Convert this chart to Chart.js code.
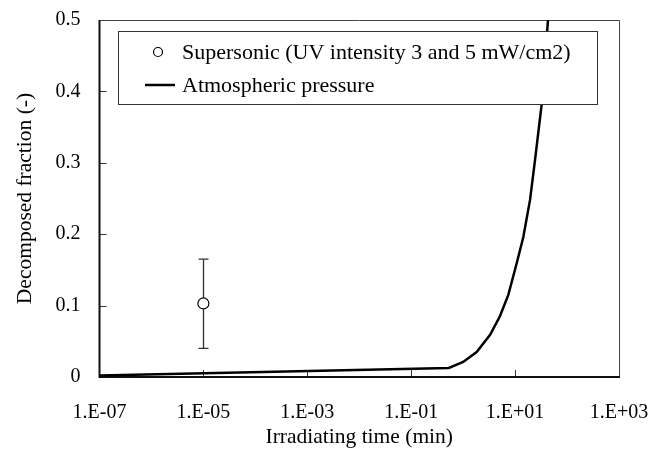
<!DOCTYPE html>
<html>
<head>
<meta charset="utf-8">
<script src="https://cdn.jsdelivr.net/npm/chart.js@4.4.1/dist/chart.umd.min.js"></script>
<style>
  body { margin: 0; background: #fff; }
  #wrap { width: 653px; height: 450px; }
</style>
</head>
<body>
<div id="wrap"><canvas id="decompChart" width="653" height="450"></canvas></div>
<script>
// supersonic run: one point with an error bar
const superTime = [1e-5];
const superFrac = [0.103];
const superLow = [0.040];
const superHigh = [0.165];

// atmospheric pressure curve
const atmTime = [1e-7, 0.53, 1.0, 1.82, 3.3, 5.1, 7.4, 10.7, 14.4, 19.4, 24.2, 32.5, 43];
const atmFrac = [0.002, 0.0126, 0.021, 0.035, 0.059, 0.085, 0.115, 0.159, 0.196, 0.248, 0.304, 0.382, 0.5];

const xTickValues = [1e-7, 1e-5, 1e-3, 1e-1, 1e1, 1e3];
const yTickValues = [0, 0.1, 0.2, 0.3, 0.4, 0.5];

const seriesLabels = ["Supersonic (UV intensity 3 and 5 mW/cm2)", "Atmospheric pressure"];

const FONT = '"Liberation Serif", "Times New Roman", serif';
Chart.defaults.font.family = FONT;
Chart.defaults.font.size = 20;
Chart.defaults.color = "#000";

function expLabel(v) {
  const e = Math.round(Math.log10(v));
  const s = e < 0 ? "-" : "+";
  return "1.E" + s + String(Math.abs(e)).padStart(2, "0");
}

// frame, inward ticks and error bars (under the marks)
const framePlugin = {
  id: "frame",
  beforeDatasetsDraw(chart) {
    const { ctx, chartArea: a, scales } = chart;
    ctx.save();
    // top and right border
    ctx.strokeStyle = "#444";
    ctx.lineWidth = 1;
    ctx.beginPath();
    ctx.moveTo(a.left, a.top + 0.5);
    ctx.lineTo(a.right + 0.5, a.top + 0.5);
    ctx.lineTo(a.right + 0.5, a.bottom);
    ctx.stroke();
    // inward ticks
    ctx.strokeStyle = "#333";
    ctx.beginPath();
    xTickValues.slice(1, -1).forEach(v => {
      const x = Math.round(scales.x.getPixelForValue(v)) + 0.5;
      ctx.moveTo(x, a.bottom);
      ctx.lineTo(x, a.bottom - 7);
    });
    yTickValues.slice(1, -1).forEach(v => {
      const y = Math.round(scales.y.getPixelForValue(v)) + 0.5;
      ctx.moveTo(a.left, y);
      ctx.lineTo(a.left + 7, y);
    });
    ctx.stroke();
    // left and bottom axis
    ctx.strokeStyle = "#111";
    ctx.lineWidth = 2;
    ctx.beginPath();
    ctx.moveTo(a.left, a.top);
    ctx.lineTo(a.left, a.bottom);
    ctx.lineTo(a.right + 1, a.bottom);
    ctx.stroke();
    // error bars
    ctx.strokeStyle = "#333";
    ctx.lineWidth = 1.3;
    ctx.beginPath();
    superTime.forEach((t, i) => {
      const x = Math.round(scales.x.getPixelForValue(t)) + 0.5;
      const y1 = scales.y.getPixelForValue(superLow[i]);
      const y2 = scales.y.getPixelForValue(superHigh[i]);
      ctx.moveTo(x, y1); ctx.lineTo(x, y2);
      ctx.moveTo(x - 5, y1); ctx.lineTo(x + 5, y1);
      ctx.moveTo(x - 5, y2); ctx.lineTo(x + 5, y2);
    });
    ctx.stroke();
    ctx.restore();
  }
};

// boxed legend inside the plot
const legendBox = {
  id: "legendBox",
  afterDatasetsDraw(chart) {
    const { ctx } = chart;
    const ds = chart.data.datasets;
    ctx.save();
    ctx.fillStyle = "#fff";
    ctx.fillRect(118, 31, 479, 73);
    ctx.strokeStyle = "#333";
    ctx.lineWidth = 1;
    ctx.strokeRect(118.5, 31.5, 479, 73);
    // entry 1: circle
    ctx.beginPath();
    ctx.arc(158, 52, 4.5, 0, Math.PI * 2);
    ctx.fillStyle = "#fff";
    ctx.fill();
    ctx.strokeStyle = ds[0].borderColor;
    ctx.lineWidth = 1.2;
    ctx.stroke();
    // entry 2: line
    ctx.beginPath();
    ctx.moveTo(145, 85);
    ctx.lineTo(175, 85);
    ctx.strokeStyle = ds[1].borderColor;
    ctx.lineWidth = 2.5;
    ctx.stroke();
    ctx.fillStyle = "#000";
    ctx.font = "22px " + FONT;
    ctx.textBaseline = "middle";
    ctx.fillText(ds[0].label, 182, 53);
    ctx.fillText(ds[1].label, 182, 86);
    ctx.restore();
  }
};

const ctx = document.getElementById("decompChart").getContext("2d");
new Chart(ctx, {
  type: "scatter",
  data: {
    datasets: [
      {
        label: seriesLabels[0],
        data: superTime.map((t, i) => ({ x: t, y: superFrac[i] })),
        pointRadius: 5.5,
        pointBackgroundColor: "#fff",
        borderColor: "#000",
        pointBorderWidth: 1.2,
        showLine: false,
        order: 0
      },
      {
        label: seriesLabels[1],
        data: atmTime.map((t, i) => ({ x: t, y: atmFrac[i] })),
        showLine: true,
        borderColor: "#000",
        borderWidth: 2.5,
        pointRadius: 0,
        tension: 0,
        order: 1
      }
    ]
  },
  options: {
    responsive: false,
    animation: false,
    layout: { padding: { top: 20, right: 34, left: 0, bottom: 0 } },
    plugins: { legend: { display: false }, tooltip: { enabled: false } },
    scales: {
      x: {
        type: "logarithmic",
        min: 1e-7,
        max: 1e3,
        grid: { display: false, drawTicks: false },
        border: { display: false },
        afterBuildTicks: s => { s.ticks = xTickValues.map(v => ({ value: v })); },
        afterFit: s => { s.height = 73; s.paddingLeft = 0; s.paddingRight = 0; },
        ticks: { padding: 24, maxRotation: 0, autoSkip: false, callback: v => expLabel(v) },
        title: { display: true, text: "Irradiating time (min)", font: { size: 21.5 }, padding: { top: 0, bottom: 0 } }
      },
      y: {
        min: 0,
        max: 0.5,
        grid: { display: false, drawTicks: false },
        border: { display: false },
        afterBuildTicks: s => { s.ticks = yTickValues.map(v => ({ value: v })); },
        afterFit: s => { s.width = 99.5; s.paddingTop = 0; s.paddingBottom = 0; },
        ticks: { padding: 19, callback: v => (v === 0 ? "0" : v.toFixed(1)) },
        title: { display: true, text: "Decomposed fraction (-)", font: { size: 21.5 }, padding: { top: 12, bottom: 0 } }
      }
    }
  },
  plugins: [framePlugin, legendBox]
});
</script>
</body>
</html>
